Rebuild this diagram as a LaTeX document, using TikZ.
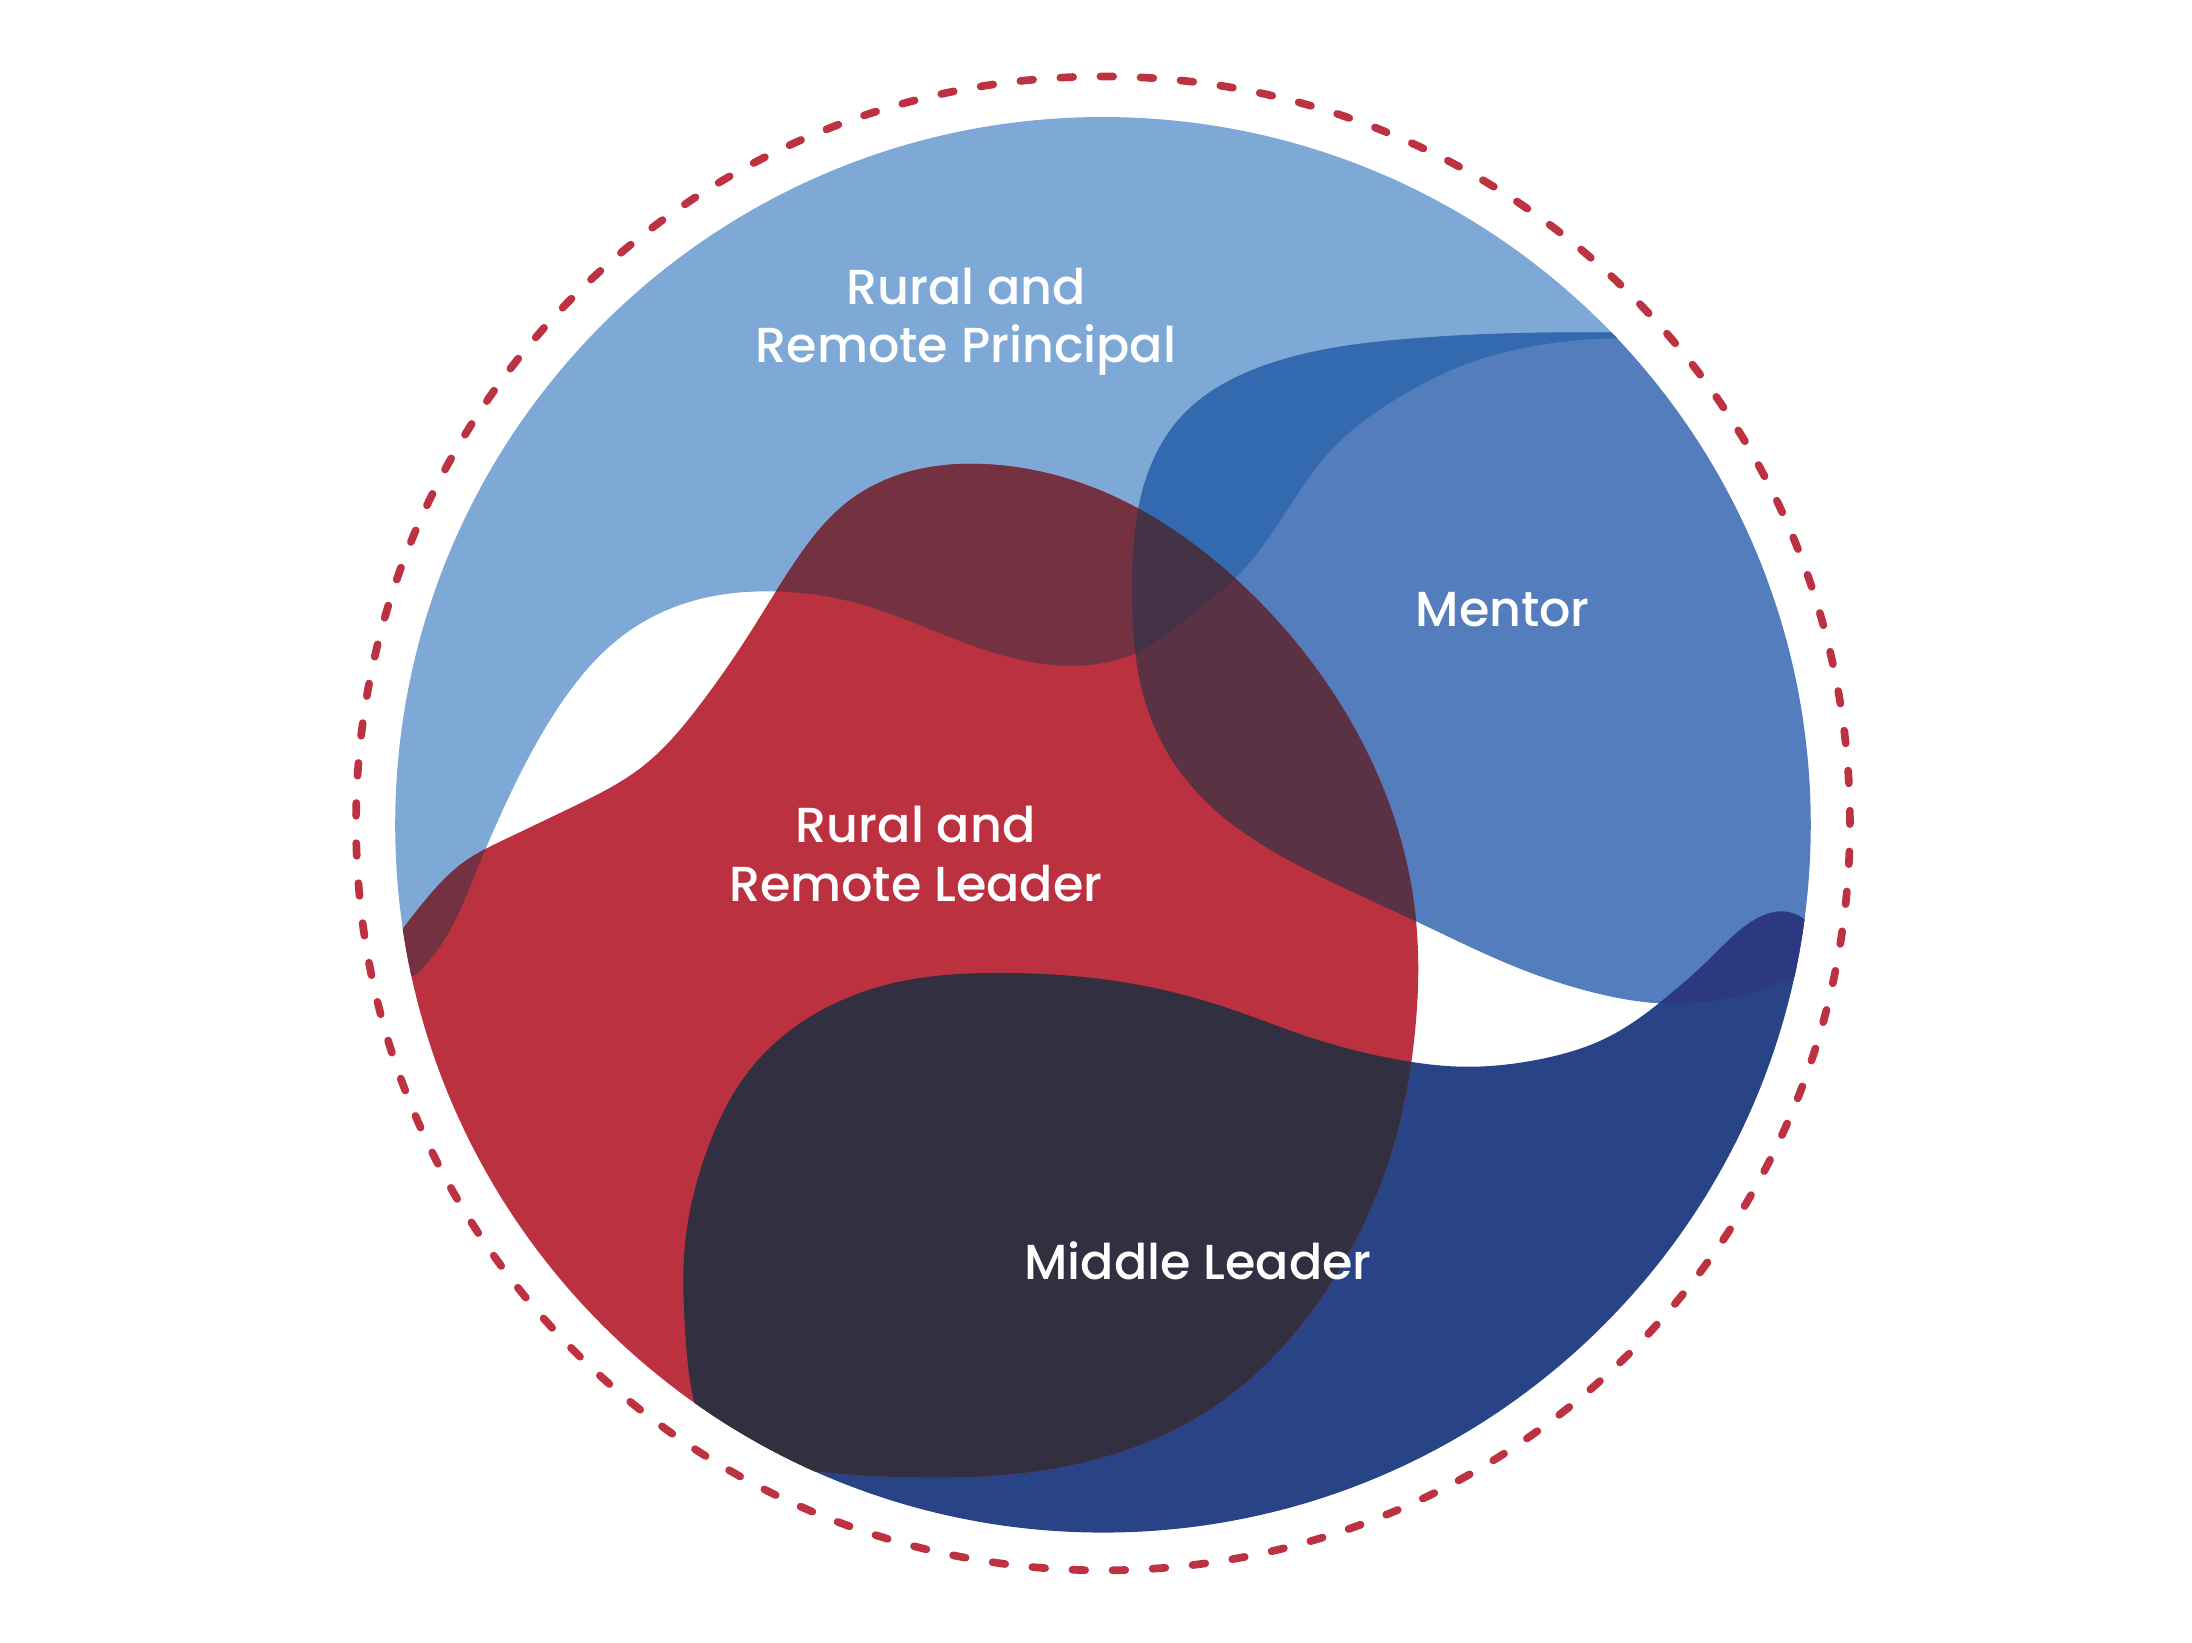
\documentclass[tikz,border=0pt]{standalone}
\usepackage{fontspec}
\usetikzlibrary{hobby}
\newfontfamily\lblfont{Poppins}[UprightFont=*-Medium]
\definecolor{cP}{HTML}{7EA9D6}
\definecolor{cM}{HTML}{537DBC}
\definecolor{cPM}{HTML}{3369AE}
\definecolor{cMid}{HTML}{284486}
\definecolor{cR}{HTML}{BC3140}
\definecolor{cRP}{HTML}{733141}
\definecolor{cRM}{HTML}{5B3243}
\definecolor{cRPM}{HTML}{443246}
\definecolor{cRMid}{HTML}{322F40}
\definecolor{cMMid}{HTML}{2C3880}
\definecolor{cDash}{HTML}{BC3240}
\def\shpOuter{(789,590) circle[radius=5.06cm]}
\def\shpP{(240,720) -- (298,697) to[curve through={(318,672) .. (340,625) .. (365,568) .. (400,505) .. (445,455) .. (495,430) .. (550,423) .. (615,432) .. (680,456) .. (730,472) .. (775,476) .. (815,466) .. (852,440) .. (887,410) .. (916,372) .. (954,320) .. (1001,284) .. (1050,260) .. (1100,247)}] (1165,242) -- (1400,242) -- (1400,-100) -- (150,-100) -- cycle}
\def\shpM{(1165,200) -- (1165,238) to[curve through={(1100,238) .. (1000,243) .. (900,263) .. (845,298) .. (818,348) .. (810,420) .. (816,490) .. (836,540) .. (872,582) .. (925,617) .. (1015,660) .. (1080,690) .. (1140,710) .. (1195,718) .. (1245,712)}] (1295,693) -- (1400,690) -- (1400,100) -- (1165,100) -- cycle}
\def\shpMid{(1400,655) -- (1295,662) to[curve through={(1275,652) .. (1255,658) .. (1225,684) .. (1190,715) .. (1150,742) .. (1100,758) .. (1045,763) .. (1000,758) .. (940,743) .. (875,720) .. (800,702) .. (720,696) .. (640,703) .. (580,727) .. (535,767) .. (505,825) .. (490,890) .. (490,950) .. (497,1005)}] (505,1030) -- (500,1200) -- (1400,1200) -- cycle}
\def\shpR{(200,640) -- (287,666) to[curve through={(305,643) .. (330,618) .. (362,600) .. (410,577) .. (460,548) .. (500,505) .. (535,455) .. (570,400) .. (605,360) .. (648,338) .. (705,332) .. (790,352) .. (870,402) .. (940,476) .. (990,565) .. (1012,650) .. (1012,740) .. (992,835) .. (952,918) .. (880,998) .. (780,1045) .. (660,1057)}] (578,1052) -- (560,1200) -- (200,1200) -- cycle}
\tikzset{lbl/.style={text=white, align=center, font=\lblfont\fontsize{10}{11.9}\selectfont}}
\begin{document}
\begin{tikzpicture}[x=0.01cm,y=-0.01cm]
\useasboundingbox (0,0) rectangle (1568,1175);
\begin{scope}
\clip \shpOuter;
\fill[cP] \shpP;
\fill[cM] \shpM;
\fill[cMid] \shpMid;
\fill[cR] \shpR;
\begin{scope}\clip \shpM; \fill[cPM] \shpP; \end{scope}
\begin{scope}\clip \shpM; \fill[cMMid] \shpMid; \end{scope}
\begin{scope}\clip \shpR; \fill[cRP] \shpP; \end{scope}
\begin{scope}\clip \shpR; \fill[cRM] \shpM; \end{scope}
\begin{scope}\clip \shpR; \clip \shpP; \fill[cRPM] \shpM; \end{scope}
\begin{scope}\clip \shpR; \fill[cRMid] \shpMid; \end{scope}
\end{scope}
\draw[cDash, line width=0.055cm, line cap=round, dash pattern=on 0.091cm off 0.19577cm] (789,589) circle[radius=5.34cm];
\node[lbl] (principal) at (691,230) {Rural and\\Remote Principal};
\node[lbl] (mentor) at (1075,436) {Mentor};
\node[lbl] (leader) at (655,611) {Rural and\\Remote Leader};
\node[lbl] (middle) at (857,902) {Middle Leader};
\end{tikzpicture}
\end{document}
